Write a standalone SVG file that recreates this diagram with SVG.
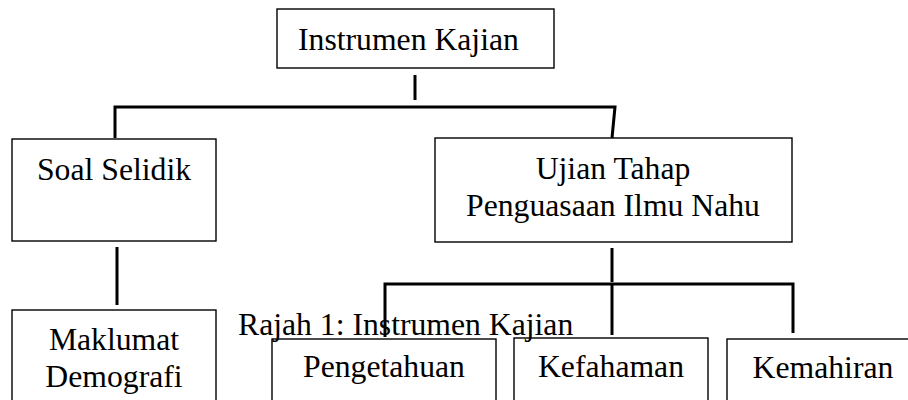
<svg xmlns="http://www.w3.org/2000/svg" width="908" height="400" viewBox="0 0 908 400">
<style>
.box{fill:#fff;stroke:#000;stroke-width:1.4}
.t{font-family:"Liberation Serif","Times New Roman",serif;font-size:31.7px;fill:#000}
.m{text-anchor:middle}
.c{fill:none;stroke:#000;stroke-width:3;stroke-linecap:butt}
</style>
<rect width="908" height="400" fill="#fff"/>
<g id="top"><rect class="box" x="277" y="9" width="277" height="59"/><text class="t" x="298" y="50">Instrumen Kajian</text></g>
<g id="soal"><rect class="box" x="12" y="139" width="204" height="102"/><text class="t" x="37" y="180">Soal Selidik</text></g>
<g id="ujian"><rect class="box" x="435" y="138" width="357" height="104"/><text class="t m" x="613" y="179">Ujian Tahap</text><text class="t m" x="613" y="216">Penguasaan Ilmu Nahu</text></g>
<g id="maklumat"><rect class="box" x="12" y="310" width="204" height="100"/><text class="t m" x="114" y="350">Maklumat</text><text class="t m" x="114" y="387">Demografi</text></g>
<g id="pengetahuan"><rect class="box" x="272" y="339" width="224" height="71"/><text class="t m" x="384" y="377">Pengetahuan</text></g>
<g id="kefahaman"><rect class="box" x="514" y="338" width="194" height="72"/><text class="t m" x="611" y="377">Kefahaman</text></g>
<g id="kemahiran"><rect class="box" x="727" y="339" width="200" height="71"/><text class="t m" x="823" y="378">Kemahiran</text></g>
<g id="connectors">
<path class="c" d="M415 75V100"/>
<path class="c" d="M115 138V107H615L612 138"/>
<path class="c" d="M117 247V305"/>
<path class="c" d="M612 248V282"/>
<path class="c" d="M385 337V284H793V333"/>
<path class="c" d="M612 284V335"/>
</g>
<g id="caption"><text class="t" x="238" y="335">Rajah 1: Instrumen Kajian</text></g>
</svg>
